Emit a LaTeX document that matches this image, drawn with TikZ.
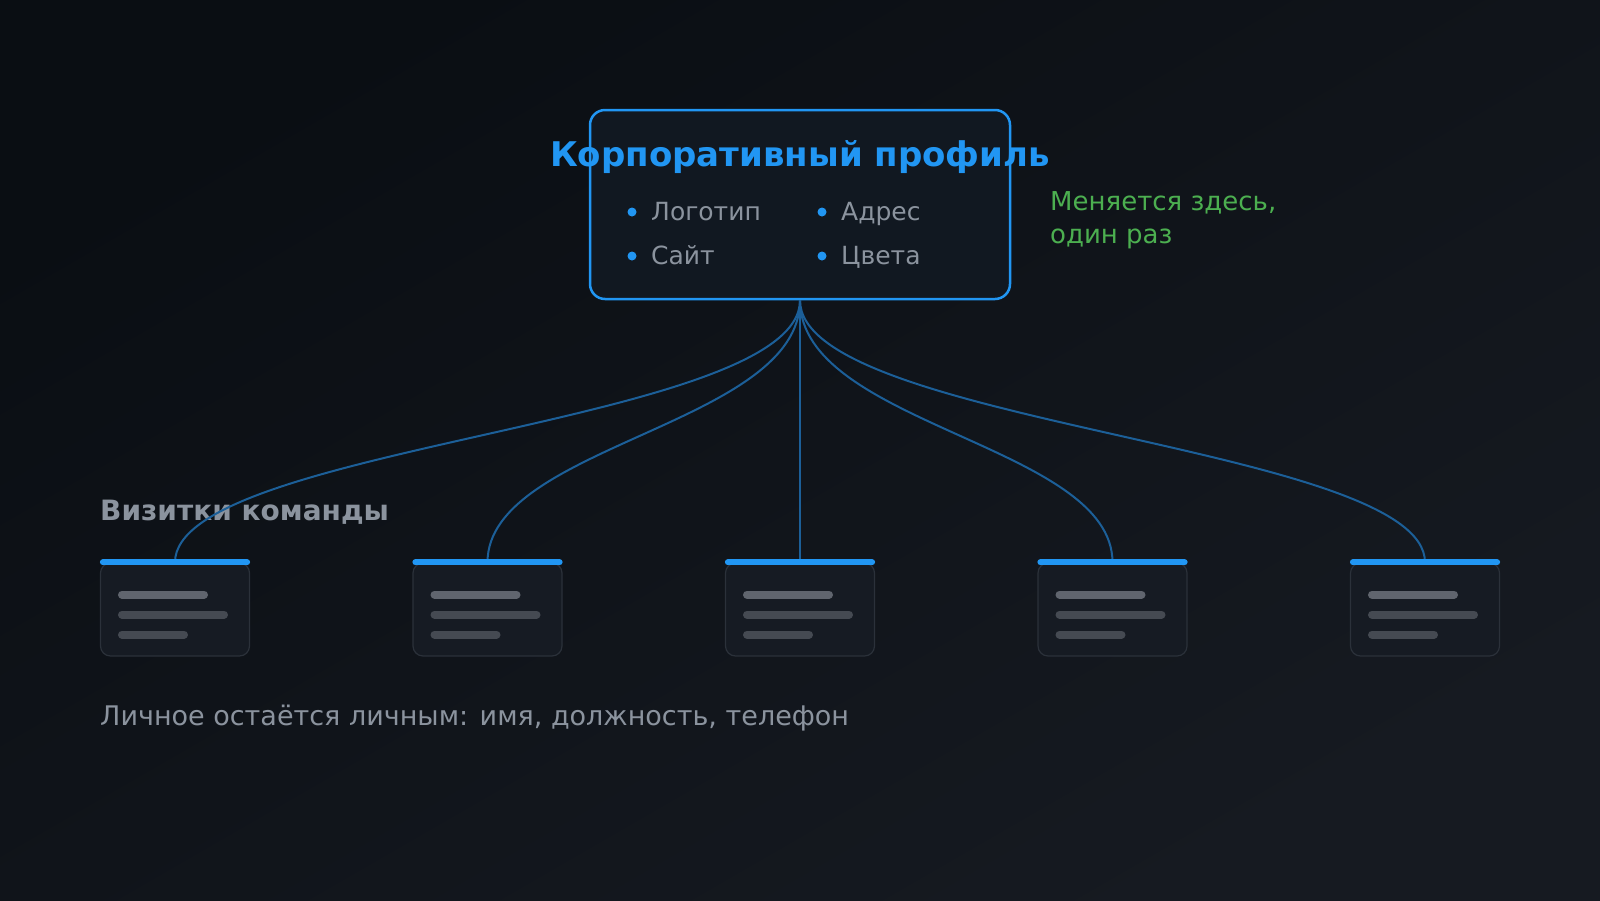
\documentclass[tikz,border=0pt]{standalone}
\usepackage{fontspec}
\setmainfont{DejaVu Sans}
\definecolor{bgA}{HTML}{0A0E13}
\definecolor{bgB}{HTML}{161A21}
\definecolor{accent}{HTML}{2196F3}
\definecolor{linkc}{HTML}{1C5F98}
\definecolor{boxfill}{HTML}{111821}
\definecolor{cardfill}{HTML}{161B23}
\definecolor{cardborder}{HTML}{2B313A}
\definecolor{txtgray}{HTML}{8B939E}
\definecolor{notegreen}{HTML}{4CAF50}
\definecolor{barA}{HTML}{60656E}
\definecolor{barB}{HTML}{454A52}
\tikzset{
  mainbox/.style={draw=accent, line width=2.5pt, fill=boxfill, rounded corners=15pt, minimum width=420pt, minimum height=189pt, inner sep=0pt},
  card/.style={draw=cardborder, line width=1.2pt, fill=cardfill, rounded corners=10pt, minimum width=149pt, minimum height=93pt, inner sep=0pt},
  topbar/.style={accent, line width=6pt, line cap=round},
  bar1/.style={barA, line width=8pt, line cap=round},
  bar2/.style={barB, line width=8pt, line cap=round},
  link/.style={linkc, line width=2pt},
  itemtxt/.style={anchor=base west, text=txtgray, font=\fontsize{25}{29}\selectfont, inner sep=0pt},
  notetxt/.style={anchor=base west, text=notegreen, font=\fontsize{26}{30}\selectfont, inner sep=0pt},
  bulletdot/.style={circle, fill=accent, minimum size=9pt, inner sep=0pt},
}
\begin{document}
\begin{tikzpicture}[x=1pt,y=-1pt]
\useasboundingbox (0,0) rectangle (1600,900);
\shade[top color=bgA, bottom color=bgB, shading angle=30] (0,0) rectangle (1600,900);
% main box
\node[mainbox] (main) at (800,204.5) {};
\node[anchor=base, text=accent, font=\bfseries\fontsize{34}{40}\selectfont, inner sep=0pt] (title) at (800,166) {Корпоративный профиль};
\node[bulletdot] (b1) at (632,212) {};
\node[bulletdot] (b2) at (632,256) {};
\node[bulletdot] (b3) at (822,212) {};
\node[bulletdot] (b4) at (822,256) {};
\node[itemtxt] (t1) at (651,220) {Логотип};
\node[itemtxt] (t2) at (651,264) {Сайт};
\node[itemtxt] (t3) at (841,220) {Адрес};
\node[itemtxt] (t4) at (841,264) {Цвета};
% note
\node[notetxt] (note1) at (1050,210) {Меняется здесь,};
\node[notetxt] (note2) at (1050,243) {один раз};
% section title
\node[anchor=base west, text=txtgray, font=\bfseries\fontsize{28}{32}\selectfont, inner sep=0pt] (sect) at (100,520) {Визитки команды};
% cards
\foreach \i/\cx in {1/175,2/487.5,3/800,4/1112.5,5/1425}{
  \node[card] (c\i) at (\cx,609.5) {};
}
\foreach \i/\cx in {1/175,2/487.5,4/1112.5,5/1425}{
  \draw[link] (main.south) .. controls (800,425) and (\cx,445) .. (c\i.north);
}
\draw[link] (main.south) -- (c3.north);
\foreach \i/\cx in {1/175,2/487.5,3/800,4/1112.5,5/1425}{
  \draw[topbar] ([xshift=3pt]c\i.north west) -- ([xshift=-3pt]c\i.north east);
  \draw[bar1] (\cx-53,594.5) -- (\cx+29,594.5);
  \draw[bar2] (\cx-53,614.5) -- (\cx+49,614.5);
  \draw[bar2] (\cx-53,634.5) -- (\cx+9,634.5);
}
% bottom text
\node[anchor=base west, text=txtgray, font=\fontsize{27}{32}\selectfont, inner sep=0pt] (foot) at (100,725) {Личное остаётся личным: имя, должность, телефон};
\end{tikzpicture}
\end{document}
